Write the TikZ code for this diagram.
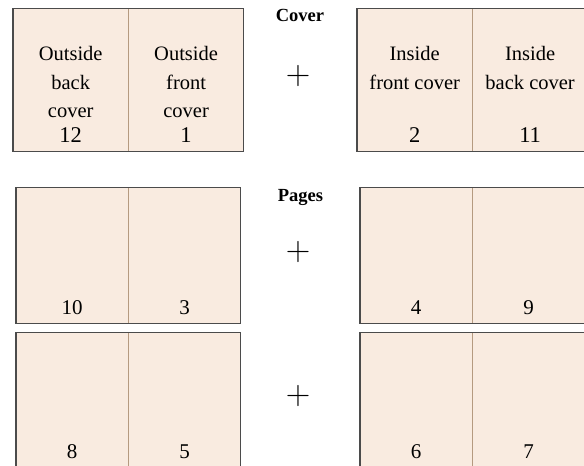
\documentclass[tikz,border=0pt]{standalone}
\usepackage{fix-cm}
\usepackage{fontspec}
\setmainfont{Liberation Serif}
\usepackage{tikz}
\usetikzlibrary{positioning}
\definecolor{pagefill}{RGB}{249,235,224}
\definecolor{framegray}{RGB}{75,75,75}
\definecolor{foldtan}{RGB}{181,154,128}
\tikzset{
    page/.style={rectangle, fill=pagefill, inner sep=0pt,
        minimum width=115pt, minimum height=142.4pt},
    inpage/.style={page, minimum width=112pt, minimum height=135.2pt},
    caption/.style={anchor=north, align=center, inner sep=0pt,
        font=\fontsize{20.5}{28.5}\selectfont},
    pagenum/.style={anchor=base, inner sep=0pt, font=\fontsize{22.5}{24}\selectfont},
    innum/.style={pagenum, font=\fontsize{21}{22}\selectfont},
    heading/.style={anchor=base, inner sep=0pt, font=\fontsize{18.5}{22}\selectfont\bfseries},
    plus/.style={inner sep=0pt, font=\fontsize{34}{36}\selectfont},
    spread/.style={draw=framegray, line width=1.2pt},
    fold/.style={draw=foldtan, line width=0.6pt},
}
\begin{document}
\begin{tikzpicture}[x=1pt, y=1pt, node distance=0pt]
    \useasboundingbox (0,0) rectangle (584,-466);
    \clip (0,0) rectangle (584,-466);
    % cover
    \node[page, anchor=north west] (p12) at (13,-8.3) {};
    \node[page, right=of p12] (p1) {};
    \node[page, anchor=north west] (p2) at (357,-8.3) {};
    \node[page, right=of p2] (p11) {};
    % pages
    \node[inpage, anchor=north west] (p10) at (16,-187.5) {};
    \node[inpage, right=of p10] (p3) {};
    \node[inpage, anchor=north west] (p4) at (360,-187.5) {};
    \node[inpage, right=of p4] (p9) {};
    \node[inpage, anchor=north west] (p8) at (16,-332.7) {};
    \node[inpage, right=of p8] (p5) {};
    \node[inpage, anchor=north west] (p6) at (360,-332.7) {};
    \node[inpage, right=of p6] (p7) {};
    \foreach \l/\r in {p12/p1, p2/p11, p10/p3, p4/p9, p8/p5, p6/p7} {
        \draw[fold] (\l.north east) -- (\l.south east);
        \draw[spread] (\l.north west) rectangle (\r.south east);
    }
    % texts
    \node[caption] (c12) at ([yshift=-38pt]p12.north) {Outside\\back\\cover};
    \node[caption] (c1) at ([yshift=-38pt]p1.north) {Outside\\front\\cover};
    \node[caption] (c2) at ([yshift=-38pt]p2.north) {Inside\\front cover};
    \node[caption] (c11) at ([yshift=-38pt]p11.north) {Inside\\back cover};
    \node[pagenum] (n12) at ([yshift=9pt]p12.south) {12};
    \node[pagenum] (n1) at ([yshift=9pt]p1.south) {1};
    \node[pagenum] (n2) at ([yshift=9pt]p2.south) {2};
    \node[pagenum] (n11) at ([yshift=9pt]p11.south) {11};
    \node[innum] (n10) at ([yshift=9pt]p10.south) {10};
    \node[innum] (n3) at ([yshift=9pt]p3.south) {3};
    \node[innum] (n4) at ([yshift=9pt]p4.south) {4};
    \node[innum] (n9) at ([yshift=9pt]p9.south) {9};
    \node[innum] (n8) at ([yshift=9.5pt]p8.south) {8};
    \node[innum] (n5) at ([yshift=9.5pt]p5.south) {5};
    \node[innum] (n6) at ([yshift=9.5pt]p6.south) {6};
    \node[innum] (n7) at ([yshift=9.5pt]p7.south) {7};
    \node[heading] (cover) at (300,-21.7) {Cover};
    \node[heading] (pages) at (300.5,-201.7) {Pages};
    \node[plus] (plus1) at (298,-75.5) {$+$};
    \node[plus] (plus2) at (298,-252) {$+$};
    \node[plus] (plus3) at (298,-396) {$+$};
\end{tikzpicture}
\end{document}
